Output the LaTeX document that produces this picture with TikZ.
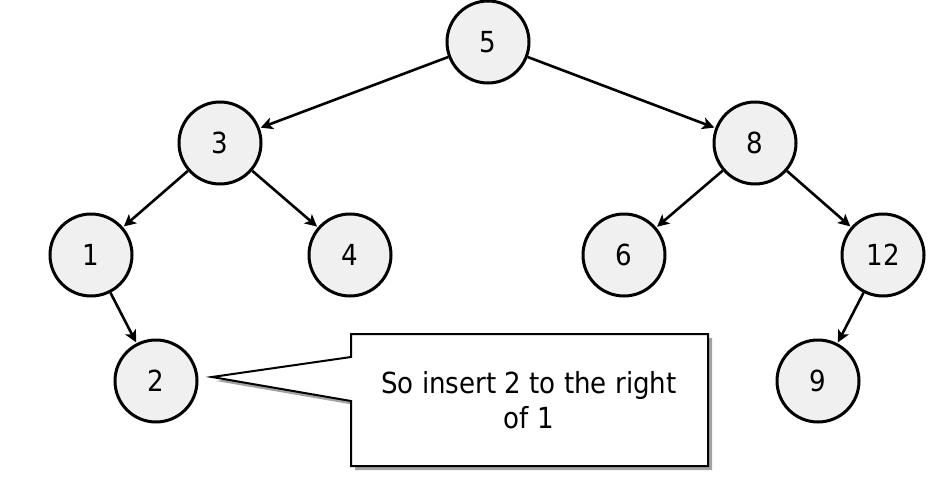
\documentclass[tikz,border=0pt]{standalone}
\usepackage{fontspec}
\setmainfont{DejaVu Sans Condensed}
\usetikzlibrary{arrows.meta,shadows}
\definecolor{nodefill}{HTML}{F0F0F0}
\tikzset{
  treenode/.style={circle, draw=black, line width=3pt, fill=nodefill,
    minimum size=82pt, inner sep=0pt, font=\fontsize{29}{34}\selectfont},
  treeedge/.style={line width=2.6pt, shorten >=1pt,
    -{Stealth[length=12pt,width=12pt,inset=3pt]}},
  callout/.style={draw=black, line width=2pt, fill=white,
    drop shadow={shadow xshift=4pt, shadow yshift=-4pt, fill=black!40, opacity=0.9}}
}
\begin{document}
\begin{tikzpicture}[x=1pt,y=-1pt]
\useasboundingbox (0,0) rectangle (947,479);
% tree nodes
\node[treenode] (n5)  at (488,42)  {5};
\node[treenode] (n3)  at (220,143) {3};
\node[treenode] (n8)  at (755,143) {8};
\node[treenode] (n1)  at (91,255)  {1};
\node[treenode] (n4)  at (350,255) {4};
\node[treenode] (n6)  at (624,255) {6};
\node[treenode] (n12) at (883,255) {12};
\node[treenode] (n2)  at (156,381) {2};
\node[treenode] (n9)  at (818,381) {9};
% edges
\draw[treeedge] (n5) -- (n3);
\draw[treeedge] (n5) -- (n8);
\draw[treeedge] (n3) -- (n1);
\draw[treeedge] (n3) -- (n4);
\draw[treeedge] (n8) -- (n6);
\draw[treeedge] (n8) -- (n12);
\draw[treeedge] (n1) -- (n2);
\draw[treeedge] (n12) -- (n9);
% callout box with pointer
\coordinate (tip) at (212,377);
\coordinate (bnw) at (351,334);
\coordinate (bne) at (708,334);
\coordinate (bse) at (708,466);
\coordinate (bsw) at (351,466);
\coordinate (bpl) at (351,401);
\coordinate (bpu) at (351,357);
\draw[callout, line join=miter] (bnw) -- (bne) -- (bse) -- (bsw) -- (bpl) -- (tip) -- (bpu) -- cycle;
\node[align=center, font=\fontsize{29}{35}\selectfont] (txt) at (529,400)
  {So insert 2 to the right\\of 1};
\end{tikzpicture}
\end{document}
